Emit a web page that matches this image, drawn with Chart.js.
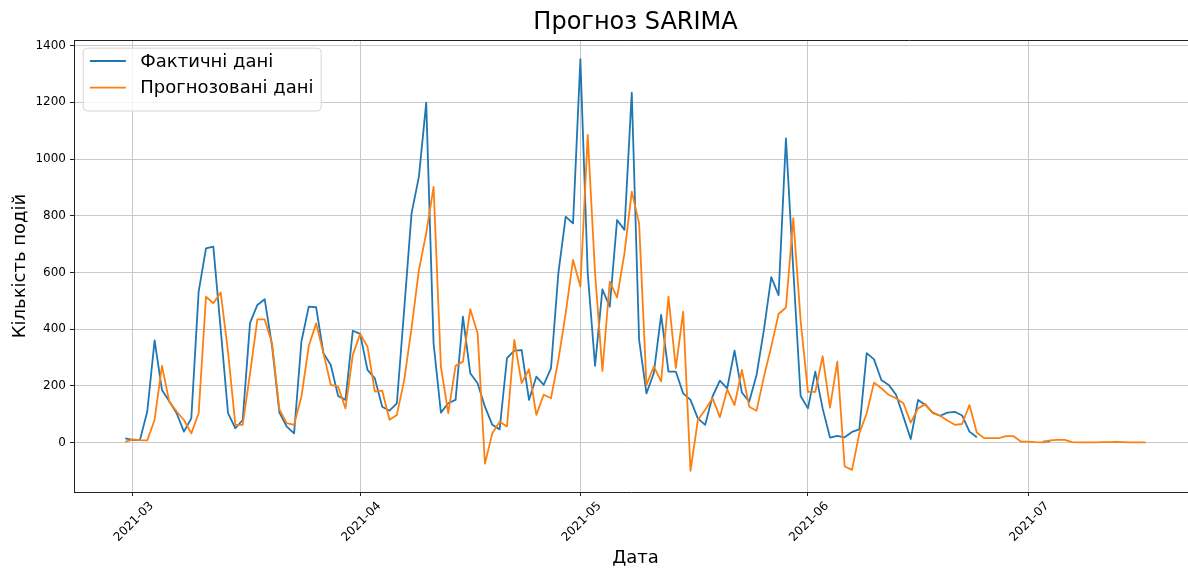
<!DOCTYPE html>
<html>
<head>
<meta charset="utf-8">
<script src="https://cdn.jsdelivr.net/npm/chart.js@4.4.0/dist/chart.umd.min.js"></script>
<style>
  html, body { margin: 0; padding: 0; background: #fff; overflow: hidden; }
  canvas { display: block; }
</style>
</head>
<body>
<canvas id="chart" width="1188" height="568"></canvas>
<script>
// Daily event counts, one value per day starting at firstDay
const firstDay = '2021-02-28';

const actual = [
  14, 9, 8, 109, 360, 185, 145, 103, 38, 85,
  532, 685, 691, 400, 103, 50, 79, 422, 485, 505,
  340, 105, 56, 32, 356, 479, 477, 315, 273, 164,
  150, 394, 383, 256, 226, 126, 112, 138, 470, 808,
  937, 1199, 350, 105, 138, 150, 444, 244, 209, 126,
  62, 46, 297, 324, 326, 150, 232, 203, 262, 597,
  797, 773, 1352, 597, 270, 540, 479, 785, 750, 1234,
  362, 173, 244, 450, 250, 250, 173, 150, 85, 62,
  162, 218, 191, 324, 176, 144, 238, 397, 583, 520,
  1073, 610, 164, 120, 250, 120, 17, 23, 18, 37,
  46, 315, 293, 220, 203, 168, 91, 12, 150, 132,
  105, 94, 105, 108, 95, 38, 18, null, null, null,
  null, null, null, null, null, 3, 4, null, null, null,
  null, null, null, null, null, null, null, null, null, null
];

const forecast = [
  2, 11, 8, 7, 80, 270, 144, 109, 79, 32,
  103, 514, 491, 529, 320, 62, 62, 244, 434, 434,
  350, 116, 68, 62, 162, 340, 420, 315, 203, 197,
  120, 309, 383, 338, 179, 183, 80, 97, 220, 403,
  608, 738, 902, 267, 103, 270, 285, 470, 385, -75,
  32, 73, 56, 362, 209, 258, 97, 168, 156, 291,
  456, 644, 550, 1085, 597, 252, 567, 512, 667, 885,
  773, 203, 268, 215, 514, 262, 461, -100, 79, 115,
  156, 89, 187, 132, 256, 126, 112, 232, 338, 453,
  476, 791, 430, 178, 178, 304, 123, 285, -85, -97,
  32, 103, 211, 191, 168, 156, 138, 70, 120, 135,
  103, 94, 77, 62, 65, 132, 35, 15, 15, 15,
  22, 22, 3, 3, 1, 0, 7, 9, 9, 1,
  0, 0, 0, 1, 1, 2, 1, 0, 0, 0
];

const monthTicks = ['2021-03', '2021-04', '2021-05', '2021-06', '2021-07'];
const countTicks = [0, 200, 400, 600, 800, 1000, 1200, 1400];

const seriesNames = ['Фактичні дані', 'Прогнозовані дані'];
const seriesColors = ['#1f77b4', '#ff7f0e'];

// x axis runs in days counted from 2021-03-01
const DAY = 86400000;
const origin = Date.parse('2021-03-01T00:00:00Z');
const dayOf = s => (Date.parse((s.length === 7 ? s + '-01' : s) + 'T00:00:00Z') - origin) / DAY;
const start = dayOf(firstDay);
const toPoints = arr => arr.map((v, i) => ({ x: start + i, y: v }));

// the plot frame nominally runs to this day, a little past the canvas edge
const frameEndDay = 145.0;

Chart.defaults.font.family = "'DejaVu Sans', sans-serif";
Chart.defaults.color = '#000';

// top edge of the plot frame, plus titles centred on the whole frame
const frameAndTitles = {
  id: 'frameAndTitles',
  afterDraw(chart) {
    const { ctx, chartArea: a, scales } = chart;
    const mid = (a.left + scales.x.getPixelForValue(frameEndDay)) / 2;
    ctx.save();
    ctx.strokeStyle = '#222';
    ctx.lineWidth = 1;
    ctx.beginPath();
    ctx.moveTo(a.left, Math.round(a.top) + 0.5);
    ctx.lineTo(a.right, Math.round(a.top) + 0.5);
    ctx.stroke();
    ctx.fillStyle = '#000';
    ctx.textAlign = 'center';
    ctx.textBaseline = 'alphabetic';
    ctx.font = "24px 'DejaVu Sans', sans-serif";
    ctx.fillText('Прогноз SARIMA', mid, 28.5);
    ctx.font = "18px 'DejaVu Sans', sans-serif";
    ctx.fillText('Дата', mid, 563);
    ctx.restore();
  }
};

// boxed legend in the upper-left corner of the plot
const boxLegend = {
  id: 'boxLegend',
  afterDraw(chart) {
    const { ctx, chartArea: a } = chart;
    const sets = chart.data.datasets;
    ctx.save();
    ctx.font = "18px 'DejaVu Sans', sans-serif";
    let textW = 0;
    sets.forEach(d => { textW = Math.max(textW, ctx.measureText(d.label).width); });
    const pad = 7.2, handle = 36, gap = 14.4, row = 26.7;
    const x0 = a.left + 8.7, y0 = a.top + 7.7;
    const w = pad + handle + gap + textW + pad;
    const h = pad * 2 + row * sets.length - 9 + 4;
    ctx.beginPath();
    ctx.roundRect(x0 + 0.5, y0 + 0.5, w, h, 4);
    ctx.fillStyle = 'rgba(255,255,255,0.8)';
    ctx.fill();
    ctx.strokeStyle = '#d6d6d6';
    ctx.lineWidth = 1;
    ctx.stroke();
    sets.forEach((d, i) => {
      const cy = y0 + 13.3 + i * row;
      ctx.strokeStyle = d.borderColor;
      ctx.lineWidth = 1.8;
      ctx.beginPath();
      ctx.moveTo(x0 + pad, cy);
      ctx.lineTo(x0 + pad + handle, cy);
      ctx.stroke();
      ctx.fillStyle = '#000';
      ctx.textBaseline = 'middle';
      ctx.textAlign = 'left';
      ctx.fillText(d.label, x0 + pad + handle + gap, cy + 1);
    });
    ctx.restore();
  }
};

new Chart(document.getElementById('chart'), {
  type: 'line',
  data: {
    datasets: [
      { label: seriesNames[0], data: toPoints(actual), borderColor: seriesColors[0], order: 1 },
      { label: seriesNames[1], data: toPoints(forecast), borderColor: seriesColors[1], order: 0 }
    ]
  },
  options: {
    responsive: false,
    animation: false,
    devicePixelRatio: 1,
    layout: { padding: { left: 0, right: 0, top: 40, bottom: 0 } },
    elements: {
      line: { borderWidth: 1.8, tension: 0, fill: false, borderJoinStyle: 'round', borderCapStyle: 'butt' },
      point: { radius: 0, hoverRadius: 0 }
    },
    spanGaps: false,
    plugins: {
      legend: { display: false },
      tooltip: { enabled: false },
      title: { display: false }
    },
    scales: {
      x: {
        type: 'linear',
        min: -7.98,
        max: 143.77,
        afterBuildTicks: s => { s.ticks = monthTicks.map(m => ({ value: dayOf(m) })); },
        afterFit: s => { s.height = 76; },
        ticks: {
          autoSkip: false,
          minRotation: 45,
          maxRotation: 45,
          padding: 3,
          labelOffset: 19,
          font: { size: 12 },
          color: '#000',
          callback: v => monthTicks[monthTicks.findIndex(m => dayOf(m) === v)]
        },
        grid: { color: '#c8c8c8', lineWidth: 1, tickLength: 4, tickColor: '#222', tickWidth: 1 },
        border: { color: '#222', width: 1 },
        title: { display: false }
      },
      y: {
        type: 'linear',
        min: -175,
        max: 1420,
        afterBuildTicks: s => { s.ticks = countTicks.map(v => ({ value: v })); },
        afterFit: s => { s.width = 74; },
        ticks: { padding: 4, font: { size: 12 }, color: '#000', callback: v => String(v) },
        grid: { color: '#c8c8c8', lineWidth: 1, tickLength: 4, tickColor: '#222', tickWidth: 1 },
        border: { color: '#222', width: 1 },
        title: { display: true, text: 'Кількість подій', color: '#000', font: { size: 18 }, padding: { top: 10, bottom: 0 } }
      }
    }
  },
  plugins: [frameAndTitles, boxLegend]
});
</script>
</body>
</html>
